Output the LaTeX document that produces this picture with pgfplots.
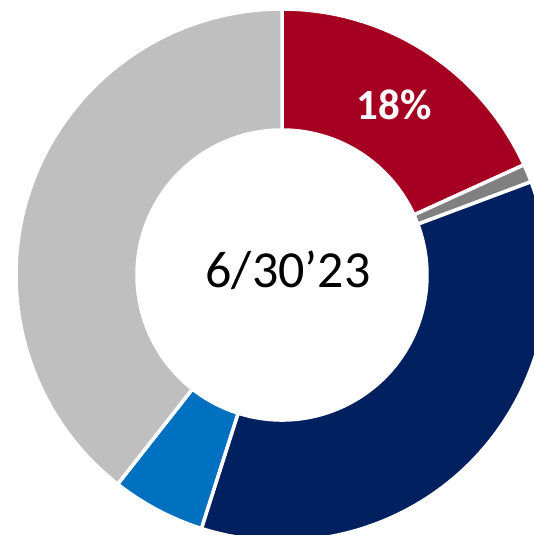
\documentclass[border=0pt]{standalone}
\usepackage{fontspec}
\setmainfont{Carlito}
\usepackage{pgfplots}
\usepackage{pgfplotstable}
\pgfplotsset{compat=1.18}
\definecolor{cRed}{HTML}{A50021}
\definecolor{cGray}{HTML}{808080}
\definecolor{cNavy}{HTML}{002060}
\definecolor{cBlue}{HTML}{0070C0}
\definecolor{cLight}{HTML}{BFBFBF}
\pgfplotstableread{
idx value
0 18.2
1 1.1
2 35.6
3 5.7
4 39.4
}\slices
\begin{document}
\begin{tikzpicture}
\useasboundingbox (0,0) rectangle (534pt,535pt);
\pgfplotstablegetelem{0}{value}\of\slices \pgfmathsetmacro{\vA}{\pgfplotsretval}
\pgfplotstablegetelem{1}{value}\of\slices \pgfmathsetmacro{\vB}{\pgfplotsretval}
\pgfplotstablegetelem{2}{value}\of\slices \pgfmathsetmacro{\vC}{\pgfplotsretval}
\pgfplotstablegetelem{3}{value}\of\slices \pgfmathsetmacro{\vD}{\pgfplotsretval}
\pgfplotstablegetelem{4}{value}\of\slices \pgfmathsetmacro{\vE}{\pgfplotsretval}
\pgfmathsetmacro{\angO}{90}
\pgfmathsetmacro{\angA}{\angO-3.6*\vA}
\pgfmathsetmacro{\angB}{\angA-3.6*\vB}
\pgfmathsetmacro{\angC}{\angB-3.6*\vC}
\pgfmathsetmacro{\angD}{\angC-3.6*\vD}
\pgfmathsetmacro{\angE}{\angD-3.6*\vE}
\def\Ro{266}
\def\Ri{145}
\begin{axis}[
  at={(0,0)}, anchor=south west,
  x=1pt, y=1pt, scale only axis,
  xmin=0, xmax=534, ymin=0, ymax=535,
  hide axis, clip=true,
]
\begin{scope}[shift={(axis cs:282,260)}, every path/.style={draw=white, line width=3.5pt, line join=miter}]
\filldraw[fill=cRed]   (\angO:\Ro) arc[start angle=\angO, end angle=\angA, radius=\Ro] -- (\angA:\Ri) arc[start angle=\angA, end angle=\angO, radius=\Ri] -- cycle;
\filldraw[fill=cGray]  (\angA:\Ro) arc[start angle=\angA, end angle=\angB, radius=\Ro] -- (\angB:\Ri) arc[start angle=\angB, end angle=\angA, radius=\Ri] -- cycle;
\filldraw[fill=cNavy]  (\angB:\Ro) arc[start angle=\angB, end angle=\angC, radius=\Ro] -- (\angC:\Ri) arc[start angle=\angC, end angle=\angB, radius=\Ri] -- cycle;
\filldraw[fill=cBlue]  (\angC:\Ro) arc[start angle=\angC, end angle=\angD, radius=\Ro] -- (\angD:\Ri) arc[start angle=\angD, end angle=\angC, radius=\Ri] -- cycle;
\filldraw[fill=cLight] (\angD:\Ro) arc[start angle=\angD, end angle=\angE, radius=\Ro] -- (\angE:\Ri) arc[start angle=\angE, end angle=\angD, radius=\Ri] -- cycle;
\end{scope}
\node[font=\fontsize{52}{52}\selectfont, inner sep=0pt] at (axis cs:288,265) {6/30’23};
\node[font=\fontsize{43}{43}\selectfont\bfseries, text=white, inner sep=0pt] at (axis cs:394,430) {18\%};
\end{axis}
\end{tikzpicture}
\end{document}
